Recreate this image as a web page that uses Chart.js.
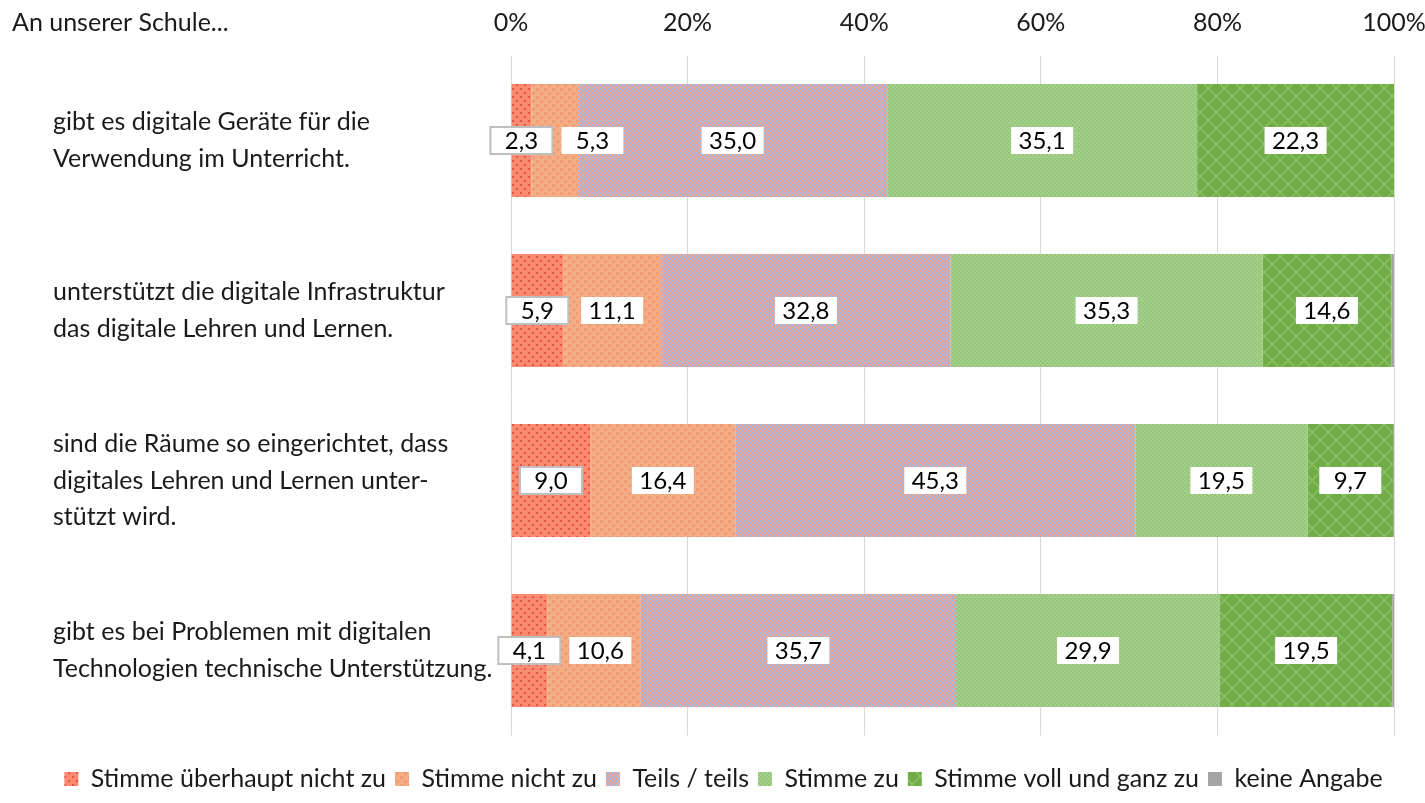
<!DOCTYPE html>
<html>
<head>
<meta charset="utf-8">
<script src="https://cdn.jsdelivr.net/npm/chart.js@4.4.1/dist/chart.umd.min.js"></script>
<style>
  body { margin: 0; background: #fff; }
  #chart { width: 1425px; height: 803px; }
</style>
</head>
<body>
<div id="chart"><canvas></canvas></div>
<script>
const categories = [
  ["gibt es digitale Geräte für die", "Verwendung im Unterricht."],
  ["unterstützt die digitale Infrastruktur", "das digitale Lehren und Lernen."],
  ["sind die Räume so eingerichtet, dass", "digitales Lehren und Lernen unter-", "stützt wird."],
  ["gibt es bei Problemen mit digitalen", "Technologien technische Unterstützung."]
];
const seriesNames = ["Stimme überhaupt nicht zu", "Stimme nicht zu", "Teils / teils", "Stimme zu", "Stimme voll und ganz zu", "keine Angabe"];
const ueberhauptNicht = [2.3, 5.9, 9.0, 4.1];
const nichtZu = [5.3, 11.1, 16.4, 10.6];
const teilsTeils = [35.0, 32.8, 45.3, 35.7];
const stimmeZu = [35.1, 35.3, 19.5, 29.9];
const vollUndGanz = [22.3, 14.6, 9.7, 19.5];
const keineAngabe = [0.0, 0.3, 0.1, 0.2];
const xTicks = [0, 20, 40, 60, 80, 100];

const FONT = "Lato";
const TEXT = "#1a1a1a";

function makePattern(size, draw) {
  const c = document.createElement("canvas");
  c.width = size; c.height = size;
  const g = c.getContext("2d");
  draw(g, size);
  return document.createElement("canvas").getContext("2d").createPattern(c, "repeat");
}

const patRed = makePattern(8, (g, s) => {
  g.fillStyle = "#fa8a72"; g.fillRect(0, 0, s, s);
  g.fillStyle = "#e6553a";
  g.fillRect(0, 0, 2, 2); g.fillRect(4, 4, 2, 2);
});
const patOrange = makePattern(8, (g, s) => {
  g.fillStyle = "#f5ae84"; g.fillRect(0, 0, s, s);
  g.fillStyle = "#f09c78";
  g.fillRect(0, 0, 3, 3); g.fillRect(4, 4, 3, 3);
});
const patTeils = makePattern(4, (g, s) => {
  g.fillStyle = "#efa392"; g.fillRect(0, 0, s, s);
  g.fillStyle = "#a8b6db";
  g.fillRect(0, 0, 2, 2); g.fillRect(2, 2, 2, 2);
});
const patZu = makePattern(4, (g, s) => {
  g.fillStyle = "#a6d08b"; g.fillRect(0, 0, s, s);
  g.fillStyle = "#94c679";
  g.fillRect(0, 0, 2, 2); g.fillRect(2, 2, 2, 2);
});
const patVoll = makePattern(16, (g, s) => {
  g.fillStyle = "#70ad47"; g.fillRect(0, 0, s, s);
  g.fillStyle = "#8cc168";
  for (let i = 0; i < s; i++) {
    g.fillRect(i, i, 1.5, 1.5);
    g.fillRect(s - 1 - i, i, 1.5, 1.5);
  }
});

const colors = [patRed, patOrange, patTeils, patZu, patVoll, "#a5a5a5"];
const values = [ueberhauptNicht, nichtZu, teilsTeils, stimmeZu, vollUndGanz, keineAngabe];

const datasets = seriesNames.map((name, i) => ({
  label: name,
  data: values[i],
  backgroundColor: colors[i],
  borderWidth: 0,
  categoryPercentage: 1,
  barPercentage: 0.665,
  noLabel: i === 5,
  framed: i === 0
}));

// value boxes in the middle of each segment
const valueBoxes = {
  id: "valueBoxes",
  afterDatasetsDraw(chart) {
    const ctx = chart.ctx;
    ctx.save();
    ctx.font = "24px " + FONT;
    ctx.textAlign = "center";
    ctx.textBaseline = "middle";
    chart.data.labels.forEach((_, i) => {
      let lastRight = -Infinity;
      chart.data.datasets.forEach((ds, d) => {
        if (ds.noLabel) return;
        const bar = chart.getDatasetMeta(d).data[i];
        const txt = ds.data[i].toFixed(1).replace(".", ",");
        const w = 62, h = 27;
        let cx = (bar.x + bar.base) / 2;
        if (cx - w / 2 < lastRight + 9) cx = lastRight + 9 + w / 2;
        const x0 = cx - w / 2, y0 = bar.y - h / 2;
        ctx.fillStyle = "#fff";
        ctx.fillRect(x0, y0, w, h);
        if (ds.framed) {
          ctx.strokeStyle = "#bfbfbf";
          ctx.lineWidth = 2;
          ctx.strokeRect(x0, y0, w, h);
        }
        ctx.fillStyle = "#000";
        ctx.fillText(txt, cx, bar.y + 1);
        lastRight = x0 + w;
      });
    });
    ctx.restore();
  }
};

const cornerTitle = {
  id: "cornerTitle",
  afterDraw(chart) {
    const ctx = chart.ctx;
    const sx = chart.scales.x;
    ctx.save();
    ctx.font = "25px " + FONT;
    ctx.fillStyle = TEXT;
    ctx.textAlign = "left";
    ctx.textBaseline = "bottom";
    ctx.fillText("An unserer Schule...", 12, sx.bottom - sx.options.ticks.padding - 2);
    ctx.restore();
  }
};

// push the legend down a bit, below the plot
const legendShift = {
  id: "legendShift",
  afterLayout(chart) {
    chart.legend.top += 22;
    chart.legend.bottom += 22;
  }
};

const config = {
  type: "bar",
  data: { labels: categories, datasets },
  options: {
    indexAxis: "y",
    responsive: true,
    maintainAspectRatio: false,
    animation: false,
    layout: { padding: { left: 53, right: 31, top: 5, bottom: 4 } },
    scales: {
      x: {
        position: "top",
        stacked: true,
        min: 0,
        max: 100,
        afterBuildTicks: (s) => { s.ticks = xTicks.map(v => ({ value: v })); },
        afterFit: (s) => { s.height = 50.5; s.paddingLeft = 0; s.paddingRight = 0; },
        ticks: {
          callback: (v) => v + "%",
          font: { family: FONT, size: 25 },
          color: TEXT,
          padding: 18
        },
        grid: { color: "#d9d9d9", drawTicks: false },
        border: { display: false }
      },
      y: {
        stacked: true,
        ticks: {
          crossAlign: "far",
          font: { family: FONT, size: 25, lineHeight: 1.47 },
          color: TEXT
        },
        afterFit: (s) => { s.width = 458; s.paddingTop = 0; s.paddingBottom = 67.5; },
        grid: { display: false },
        border: { display: false }
      }
    },
    plugins: {
      legend: {
        position: "bottom",
        labels: {
          font: { family: FONT, size: 25 },
          color: TEXT,
          boxWidth: 14,
          boxHeight: 14,
          padding: 9
        }
      },
      tooltip: { enabled: false }
    }
  },
  plugins: [valueBoxes, cornerTitle, legendShift]
};

new Chart(document.querySelector("#chart canvas").getContext("2d"), config);
</script>
</body>
</html>
